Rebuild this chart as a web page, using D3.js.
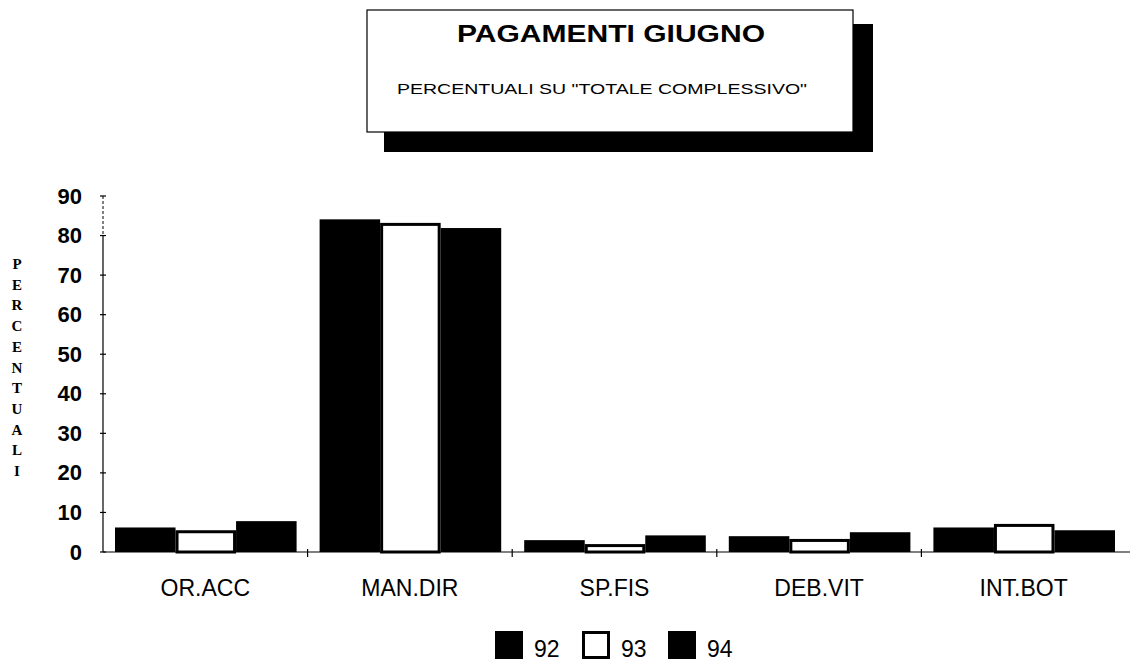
<!DOCTYPE html>
<html>
<head>
<meta charset="utf-8">
<script src="https://cdn.jsdelivr.net/npm/d3@7"></script>
<style>
  body { margin: 0; background: #fff; }
  svg text { fill: #000; }
</style>
</head>
<body>
<div class="card"></div>
<script>
const categories = ["OR.ACC", "MAN.DIR", "SP.FIS", "DEB.VIT", "INT.BOT"];
const years = ["92", "93", "94"];
const v92 = [6.2, 84.1, 3.0, 4.0, 6.2];
const v93 = [5.5, 83.2, 2.0, 3.3, 7.1];
const v94 = [7.8, 81.9, 4.2, 5.0, 5.5];
const yTicks = [0, 10, 20, 30, 40, 50, 60, 70, 80, 90];
const title = "PAGAMENTI GIUGNO";
const subtitle = "PERCENTUALI SU \"TOTALE COMPLESSIVO\"";
const yTitle = "PERCENTUALI";

const w = 1131, h = 665;
const padL = 103, padR = 1126, padT = 196, padB = 552;
const sans = "Liberation Sans, Arial, sans-serif";

var svg = d3.select(".card").append("svg")
  .attr("width", w).attr("height", h)
  .style("font-family", sans);

// title box with shadow
svg.append("rect").attr("x", 384).attr("y", 24).attr("width", 489).attr("height", 128).attr("fill", "#000");
svg.append("rect").attr("x", 367).attr("y", 10).attr("width", 486).attr("height", 122)
  .attr("fill", "#fff").attr("stroke", "#000").attr("stroke-width", 1.2);
svg.append("text").attr("x", 611).attr("y", 42).attr("text-anchor", "middle")
  .attr("font-size", 24).attr("font-weight", "bold")
  .attr("textLength", 308).attr("lengthAdjust", "spacingAndGlyphs").text(title);
svg.append("text").attr("x", 602).attr("y", 94).attr("text-anchor", "middle")
  .attr("font-size", 15)
  .attr("textLength", 410).attr("lengthAdjust", "spacingAndGlyphs").text(subtitle);

var x0 = d3.scaleBand().domain(categories).range([padL, padR]).padding(0);
var x1 = d3.scaleBand().domain(years).range([12, x0.bandwidth() - 11]).padding(0);
var y = d3.scaleLinear().domain([0, 90]).range([padB, padT]);

var rows = categories.map((c, i) => ({ cat: c, vals: [v92[i], v93[i], v94[i]] }));

var groups = svg.selectAll(".grp").data(rows).enter().append("g")
  .attr("class", "grp")
  .attr("transform", d => "translate(" + x0(d.cat) + ",0)");

groups.selectAll("rect").data(d => d.vals.map((v, j) => ({ year: years[j], v: v })))
  .enter().append("rect")
  .attr("x", d => x1(d.year) + (d.year === "93" ? 1.5 : 0))
  .attr("y", d => y(d.v) + (d.year === "93" ? 1.5 : 0))
  .attr("width", d => x1.bandwidth() - (d.year === "93" ? 3 : 0))
  .attr("height", d => padB - y(d.v) - (d.year === "93" ? 1.5 : 0))
  .attr("fill", d => d.year === "93" ? "#fff" : "#000")
  .attr("stroke", d => d.year === "93" ? "#000" : "none")
  .attr("stroke-width", 3);

// y axis
var yAxis = d3.axisLeft(y).tickValues(yTicks).tickSize(0).tickPadding(21);
var gy = svg.append("g").attr("transform", "translate(" + padL + ",0)").call(yAxis);
gy.select(".domain").remove();
gy.selectAll("text").attr("font-size", 22).attr("font-weight", "bold")
  .style("font-family", sans);
svg.append("line").attr("x1", padL).attr("x2", padL).attr("y1", padT + 40).attr("y2", padB)
  .attr("stroke", "#000").attr("stroke-width", 1.2);
svg.append("line").attr("x1", padL).attr("x2", padL).attr("y1", padT).attr("y2", padT + 40)
  .attr("stroke", "#000").attr("stroke-width", 1).attr("stroke-dasharray", "3,2");
svg.selectAll(".ytk").data(yTicks).enter().append("line")
  .attr("x1", padL - 3).attr("x2", padL + 3)
  .attr("y1", d => y(d)).attr("y2", d => y(d))
  .attr("stroke", "#000").attr("stroke-width", 1.2);

// x axis
var xAxis = d3.axisBottom(x0).tickSize(0).tickPadding(28);
var gx = svg.append("g").attr("transform", "translate(0," + padB + ")").call(xAxis);
gx.select(".domain").remove();
gx.selectAll("text").attr("font-size", 23)
  .style("font-family", sans);
svg.append("line").attr("x1", padL).attr("x2", padR + 4).attr("y1", padB).attr("y2", padB)
  .attr("stroke", "#000").attr("stroke-width", 1.2);
svg.selectAll(".xtk").data(categories.slice(1)).enter().append("line")
  .attr("x1", d => x0(d)).attr("x2", d => x0(d))
  .attr("y1", padB - 3).attr("y2", padB + 5)
  .attr("stroke", "#000").attr("stroke-width", 1.2);

// vertical y title
svg.selectAll(".yl").data(yTitle.split("")).enter().append("text")
  .attr("x", 17).attr("y", (d, i) => 269 + i * 20.7)
  .attr("text-anchor", "middle")
  .style("font-family", "Liberation Serif, serif")
  .attr("font-weight", "bold").attr("font-size", 15)
  .text(d => d);

// legend
var legX = [495, 582, 668];
var lg = svg.selectAll(".leg").data(years).enter().append("g")
  .attr("transform", (d, i) => "translate(" + legX[i] + ",631)");
lg.append("rect").attr("x", d => d === "93" ? 1.5 : 0).attr("y", d => d === "93" ? 1.5 : 0)
  .attr("width", d => d === "93" ? 25 : 28).attr("height", d => d === "93" ? 25 : 28)
  .attr("fill", d => d === "93" ? "#fff" : "#000")
  .attr("stroke", d => d === "93" ? "#000" : "none").attr("stroke-width", 3);
lg.append("text").attr("x", 39).attr("y", 26).attr("font-size", 23).text(d => d);
</script>
</body>
</html>
